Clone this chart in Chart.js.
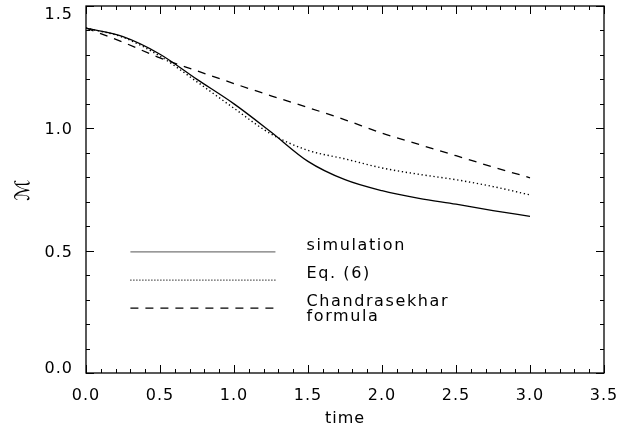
<!DOCTYPE html>
<html>
<head>
<meta charset="utf-8">
<script src="https://cdn.jsdelivr.net/npm/chart.js@4.4.1/dist/chart.umd.min.js"></script>
<style>
  html, body { margin: 0; padding: 0; background: #fff; }
  #wrap { width: 636px; height: 431px; }
</style>
</head>
<body>
<div id="wrap"><canvas id="machChart"></canvas></div>
<script>
// values
const times = [0, 0.25, 0.5, 0.75, 1.0, 1.25, 1.5, 1.75, 2.0, 2.25, 2.5, 2.75, 3.0];
const simulation = [1.41, 1.375, 1.303, 1.20, 1.10, 0.985, 0.865, 0.79, 0.745, 0.714, 0.69, 0.664, 0.64];
const eq6 = [1.41, 1.372, 1.295, 1.19, 1.082, 0.977, 0.91, 0.875, 0.838, 0.812, 0.79, 0.762, 0.728];
const chandrasekhar = [1.41, 1.352, 1.288, 1.235, 1.183, 1.133, 1.085, 1.035, 0.98, 0.934, 0.888, 0.842, 0.798];

const xTicks = [0, 0.5, 1.0, 1.5, 2.0, 2.5, 3.0, 3.5];
const yTicks = [0, 0.5, 1.0, 1.5];
const legendLabels = [['simulation'], ['Eq. (6)'], ['Chandrasekhar', 'formula']];

const FONT = 'DejaVu Sans';
const toXY = vals => vals.map((v, i) => ({ x: times[i], y: v }));

const styles = [
    { borderDash: [], borderWidth: 1.3 },
    { borderDash: [1.3, 2.7], borderWidth: 1.4 },
    { borderDash: [8, 7], borderWidth: 1.3 }
];

// box, inward ticks on all four sides, y labels and the legend
const framePlugin = {
    id: 'frame',
    beforeDraw(chart) {
        chart.ctx.letterSpacing = '1px';
    },
    afterDraw(chart) {
        const ctx = chart.ctx;
        const a = chart.chartArea;
        const xs = chart.scales.x, ys = chart.scales.y;
        ctx.save();
        ctx.strokeStyle = '#000';
        ctx.lineWidth = 1.3;
        ctx.setLineDash([]);
        ctx.strokeRect(a.left, a.top, a.right - a.left, a.bottom - a.top);

        ctx.lineWidth = 1;
        ctx.beginPath();
        for (let i = 0; i <= 35; i++) {
            const v = i / 10;
            const len = (i % 5 === 0) ? 8 : 4;
            const px = Math.round(xs.getPixelForValue(v)) + 0.5;
            ctx.moveTo(px, a.bottom); ctx.lineTo(px, a.bottom - len);
            ctx.moveTo(px, a.top); ctx.lineTo(px, a.top + len);
        }
        for (let i = 0; i <= 15; i++) {
            const v = i / 10;
            const len = (i % 5 === 0) ? 8 : 4;
            const py = Math.round(ys.getPixelForValue(v)) + 0.5;
            ctx.moveTo(a.left, py); ctx.lineTo(a.left + len, py);
            ctx.moveTo(a.right, py); ctx.lineTo(a.right - len, py);
        }
        ctx.stroke();

        // y tick labels, kept inside the box height like the original
        ctx.font = '16px "' + FONT + '"';
        ctx.letterSpacing = '1px';
        ctx.fillStyle = '#000';
        ctx.textAlign = 'right';
        ctx.textBaseline = 'middle';
        yTicks.forEach(v => {
            let py = ys.getPixelForValue(v);
            py = Math.min(Math.max(py + 2, a.top + 9), a.bottom - 4);
            ctx.fillText(v.toFixed(1), a.left - 13, py);
        });

        // legend
        const rowsY = [0.495, 0.38, 0.265];
        const x0 = xs.getPixelForValue(0.3), x1 = xs.getPixelForValue(1.28);
        const tx = xs.getPixelForValue(1.49);
        ctx.letterSpacing = '1.6px';
        ctx.textAlign = 'left';
        rowsY.forEach((ry, i) => {
            const py = ys.getPixelForValue(ry);
            ctx.strokeStyle = i === 0 ? '#777' : '#000';
            ctx.lineWidth = i === 1 ? 1.2 : 1.3;
            ctx.setLineDash(i === 1 ? [1, 2] : styles[i].borderDash);
            ctx.beginPath();
            ctx.moveTo(x0, py); ctx.lineTo(x1, py);
            ctx.stroke();
            legendLabels[i].forEach((t, j) => {
                ctx.fillText(t, tx, py - 6 + j * 14.5);
            });
        });
        ctx.restore();
    }
};

new Chart(document.getElementById('machChart').getContext('2d'), {
    type: 'line',
    data: {
        datasets: [simulation, eq6, chandrasekhar].map((vals, i) => ({
            label: legendLabels[i].join(' '),
            data: toXY(vals),
            borderColor: '#000',
            borderWidth: styles[i].borderWidth,
            borderDash: styles[i].borderDash,
            pointRadius: 0,
            fill: false,
            cubicInterpolationMode: 'monotone'
        }))
    },
    options: {
        responsive: true,
        maintainAspectRatio: false,
        animation: false,
        layout: { padding: { top: 6, right: 32, left: 0, bottom: 0 } },
        plugins: { legend: { display: false }, tooltip: { enabled: false } },
        scales: {
            x: {
                type: 'linear',
                min: 0, max: 3.5,
                grid: { display: false },
                border: { display: false },
                afterBuildTicks: s => { s.ticks = xTicks.map(v => ({ value: v })); },
                afterFit: s => { s.height = 58; s.paddingLeft = 0; s.paddingRight = 0; },
                ticks: {
                    color: '#000',
                    padding: 5,
                    maxRotation: 0,
                    font: { family: FONT, size: 16 },
                    callback: v => Number(v).toFixed(1)
                },
                title: {
                    display: true, text: 'time', color: '#000',
                    font: { family: FONT, size: 16 },
                    padding: { top: 0, bottom: 3 }
                }
            },
            y: {
                type: 'linear',
                min: 0, max: 1.5,
                grid: { display: false },
                border: { display: false },
                afterBuildTicks: s => { s.ticks = yTicks.map(v => ({ value: v })); },
                afterFit: s => { s.width = 86; s.paddingTop = 0; s.paddingBottom = 0; },
                ticks: { display: false },
                title: {
                    display: true, text: 'ℳ', color: '#000',
                    font: { family: FONT, size: 20, style: 'italic' },
                    padding: { top: 12, bottom: 0 }
                }
            }
        }
    },
    plugins: [framePlugin]
});
</script>
</body>
</html>
